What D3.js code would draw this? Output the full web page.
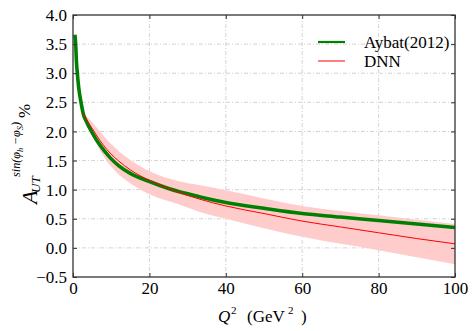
<!DOCTYPE html>
<html><head><meta charset="utf-8">
<script src="https://cdn.jsdelivr.net/npm/d3@7"></script>
<style>body{margin:0;background:#fff}svg{display:block}svg text{font-family:"Liberation Serif","Times New Roman",serif !important;fill:#000}</style>
</head><body><svg id="c" width="474" height="331"></svg>
<script>
// Aybat(2012) curve
const aybatQ2 = [0.5,0.7,0.9,1.13,1.5,2.1,2.7,3.5,5,7,9.7,12,15,20,25,33,40,50,60,70,80,90,100];
const aybatA  = [3.66,3.5,3.2,3.0,2.75,2.5,2.3,2.17,1.98,1.77,1.55,1.41,1.28,1.14,1.02,0.88,0.78,0.68,0.59,0.53,0.47,0.41,0.35];
// DNN central curve
const dnnQ2 = [2.5,3.5,4.45,6,8,9.7,12,15,20,25,33,40,50,60,70,80,90,100];
const dnnA  = [2.31,2.21,2.11,1.95,1.76,1.63,1.49,1.34,1.16,1.02,0.84,0.72,0.59,0.46,0.36,0.26,0.16,0.07];
// DNN uncertainty band
const bandQ2 = [2.5,4.45,9.7,15,20,28,33,40,60,80,100];
const bandLo = [2.29,2.0,1.42,1.11,0.92,0.74,0.62,0.50,0.19,-0.04,-0.28];
const bandHi = [2.33,2.2,1.80,1.51,1.32,1.14,1.08,0.99,0.72,0.56,0.41];
// ticks
const xTicks = [0,20,40,60,80,100];
const yTicks = [-0.5,0,0.5,1.0,1.5,2.0,2.5,3.0,3.5,4.0];
const legendLabels = ["Aybat(2012)","DNN"];

const svg = d3.select("#c");
const L=73, R=455, T=15, B=277;
const x = d3.scaleLinear().domain([0,100]).range([L,R]);
const y = d3.scaleLinear().domain([-0.5,4.0]).range([B,T]);
const serif = "'Liberation Serif','Times New Roman',serif";

// grid
const grid = svg.append("g").attr("stroke","#c8c8c8").attr("stroke-width",0.8).attr("stroke-dasharray","4,2,1,2");
grid.selectAll("line.gx").data(xTicks.slice(1,-1)).join("line")
  .attr("x1",d=>x(d)).attr("x2",d=>x(d)).attr("y1",T).attr("y2",B);
grid.selectAll("line.gy").data(yTicks.slice(1,-1)).join("line")
  .attr("y1",d=>y(d)).attr("y2",d=>y(d)).attr("x1",L).attr("x2",R);

// band
const band = bandQ2.map((q,i)=>({q,lo:bandLo[i],hi:bandHi[i]}));
svg.append("path").datum(band)
  .attr("d",d3.area().x(d=>x(d.q)).y0(d=>y(d.lo)).y1(d=>y(d.hi)).curve(d3.curveMonotoneX))
  .attr("fill","#ffcccc").attr("stroke","none");

// Aybat line
const ay = aybatQ2.map((q,i)=>({q,v:aybatA[i]}));
svg.append("path").datum(ay)
  .attr("d",d3.line().x(d=>x(d.q)).y(d=>y(d.v)).curve(d3.curveMonotoneX))
  .attr("fill","none").attr("stroke","#008000").attr("stroke-width",3.6);

// DNN line
const dn = dnnQ2.map((q,i)=>({q,v:dnnA[i]}));
svg.append("path").datum(dn)
  .attr("d",d3.line().x(d=>x(d.q)).y(d=>y(d.v)).curve(d3.curveMonotoneX))
  .attr("fill","none").attr("stroke","#ff0000").attr("stroke-width",1);

// axes (ticks inward)
const fs = 17;
const ax = svg.append("g").attr("transform",`translate(0,${B})`)
  .call(d3.axisBottom(x).tickValues(xTicks).tickFormat(d3.format("d")).tickSizeInner(-4).tickSizeOuter(0).tickPadding(6));
const axT = svg.append("g").attr("transform",`translate(0,${T})`)
  .call(d3.axisTop(x).tickValues(xTicks).tickFormat("").tickSizeInner(-4).tickSizeOuter(0));
const ayL = svg.append("g").attr("transform",`translate(${L},0)`)
  .call(d3.axisLeft(y).tickValues(yTicks).tickFormat(d=>d3.format(".1f")(d).replace("-","\u2212")).tickSizeInner(-4).tickSizeOuter(0).tickPadding(6));
const ayR = svg.append("g").attr("transform",`translate(${R},0)`)
  .call(d3.axisRight(y).tickValues(yTicks).tickFormat("").tickSizeInner(-4).tickSizeOuter(0));
[ax,axT,ayL,ayR].forEach(g=>{
  g.attr("font-family",serif).attr("font-size",fs);
  g.select(".domain").remove();
  g.selectAll(".tick line").attr("stroke","#333").attr("stroke-width",1);
  g.selectAll(".tick text").style("font-family",serif).style("font-size",fs+"px").attr("fill","#000");
});
ax.selectAll(".tick text").attr("dy","0.62em");
ayL.selectAll(".tick text").attr("dy","0.33em");

// frame
svg.append("rect").attr("x",L).attr("y",T).attr("width",R-L).attr("height",B-T)
  .attr("fill","none").attr("stroke","#333").attr("stroke-width",1.3);

// legend
const leg = svg.append("g");
leg.append("line").attr("x1",318).attr("x2",345).attr("y1",42).attr("y2",42).attr("stroke","#008000").attr("stroke-width",2.2);
leg.append("text").attr("x",364).attr("y",47.5).attr("font-size",fs).text(legendLabels[0]);
leg.append("line").attr("x1",318).attr("x2",345).attr("y1",61).attr("y2",61).attr("stroke","#ff8080").attr("stroke-width",2);
leg.append("text").attr("x",364).attr("y",66.5).attr("font-size",fs).text(legendLabels[1]);

// x label
const xl = svg.append("text").attr("y",322).attr("font-size",fs);
xl.append("tspan").attr("x",218).attr("font-style","italic").text("Q");
xl.append("tspan").attr("x",231).attr("dy",-8).attr("font-size",11).text("2");
xl.append("tspan").attr("x",247).attr("dy",8).text("(GeV");
xl.append("tspan").attr("x",288).attr("dy",-8).attr("font-size",11).text("2");
xl.append("tspan").attr("x",301).attr("dy",8).text(")");

// y label
const yl = svg.append("g").attr("transform","translate(37,204) rotate(-90)");
yl.append("text").attr("x",0).attr("y",0).attr("font-size",22).attr("font-style","italic").text("A");
yl.append("text").attr("x",11).attr("y",3).attr("font-size",13).attr("font-style","italic").text("UT");
const sup = yl.append("text").attr("x",27).attr("y",-17).attr("font-size",13).attr("font-style","italic")
  .attr("textLength",55).attr("lengthAdjust","spacingAndGlyphs");
sup.append("tspan").text("sin(\u03c6");
sup.append("tspan").attr("font-size",9).attr("dy",3).text("h");
sup.append("tspan").attr("dy",-3).text("\u2009\u2212\u03c6");
sup.append("tspan").attr("font-size",9).attr("dy",3).text("S");
sup.append("tspan").attr("dy",-3).text(")");
yl.append("text").attr("x",86).attr("y",-7).attr("font-size",17).text("%");
</script></body></html>
